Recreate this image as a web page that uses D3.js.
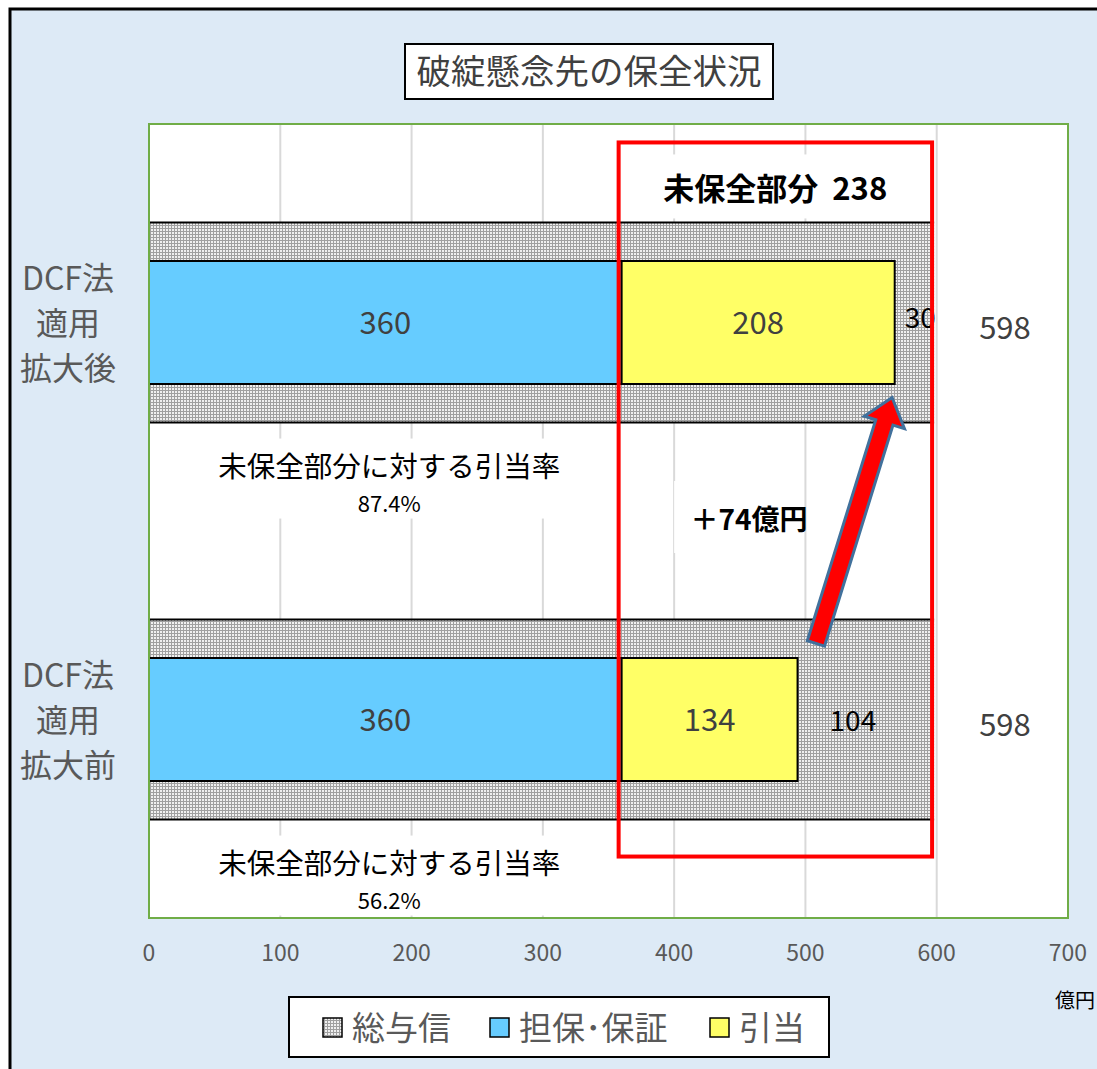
<!DOCTYPE html>
<html>
<head>
<meta charset="utf-8">
<script src="https://cdn.jsdelivr.net/npm/d3@7"></script>
<style>
body{margin:0;background:#fff;}
text{font-family:"Noto Sans CJK JP","Noto Sans",sans-serif;}
</style>
</head>
<body>
<div id="chart"></div>
<script>
// data
var categories=["拡大後","拡大前"];
var catLabels=[["DCF法","適用","拡大後"],["DCF法","適用","拡大前"]];
var totals=[598,598];
var collateral=[360,360];
var provision=[208,134];
var uncovered=[30,104];
var rates=["87.4%","56.2%"];
var xTicks=[0,100,200,300,400,500,600,700];
var legendNames=["総与信","担保･保証","引当"];

var W=1097,H=1069;
var svg=d3.select("#chart").append("svg")
	.attr("width",W).attr("height",H);

var defs=svg.append("defs");
var pat=defs.append("pattern")
	.attr("id","hatch").attr("width",3).attr("height",3)
	.attr("patternUnits","userSpaceOnUse");
pat.append("rect").attr("width",3).attr("height",3).attr("fill","#f0f0f0");
pat.append("rect").attr("width",3).attr("height",1).attr("fill","#a0a0a0");
pat.append("rect").attr("width",1).attr("height",3).attr("fill","#a0a0a0");

// background + frame
svg.append("rect").attr("x",10).attr("y",9).attr("width",W).attr("height",H)
	.attr("fill","#ddeaf6").attr("stroke","#000").attr("stroke-width",3);

var x=d3.scaleLinear().domain([0,700]).range([149,1068]);
var y=d3.scaleBand().domain(categories).range([124,918])
	.paddingInner(0.496).paddingOuter(0.248);
var inner=123;

// plot area
svg.append("rect").attr("x",x(0)).attr("y",124).attr("width",x(700)-x(0)).attr("height",794)
	.attr("fill","#fff");

// grid
svg.selectAll(".grid").data(xTicks.slice(1,-1)).enter().append("line")
	.attr("class","grid")
	.attr("x1",function(d){return x(d);}).attr("x2",function(d){return x(d);})
	.attr("y1",124).attr("y2",918)
	.attr("stroke","#d9d9d9").attr("stroke-width",2);

// total bars
svg.selectAll(".tot").data(categories).enter().append("rect")
	.attr("x",x(0)).attr("y",function(d){return y(d);})
	.attr("width",function(d,i){return x(totals[i])-x(0);})
	.attr("height",y.bandwidth())
	.attr("fill","url(#hatch)");
categories.forEach(function(c,i){
	[y(c),y(c)+y.bandwidth()].forEach(function(yy){
		svg.append("line").attr("x1",x(0)).attr("x2",x(totals[i]))
			.attr("y1",yy).attr("y2",yy).attr("stroke","#000").attr("stroke-width",2);
	});
});

function mid(c){return y(c)+y.bandwidth()/2;}

// collateral bars
svg.selectAll(".col").data(categories).enter().append("rect")
	.attr("x",x(0)).attr("y",function(d){return mid(d)-inner/2;})
	.attr("width",function(d,i){return x(collateral[i])-x(0);})
	.attr("height",inner)
	.attr("fill","#66ccff").attr("stroke","#000").attr("stroke-width",2);

// provision bars
svg.selectAll(".pro").data(categories).enter().append("rect")
	.attr("x",function(d,i){return x(collateral[i]);})
	.attr("y",function(d){return mid(d)-inner/2;})
	.attr("width",function(d,i){return x(collateral[i]+provision[i])-x(collateral[i]);})
	.attr("height",inner)
	.attr("fill","#ffff66").attr("stroke","#000").attr("stroke-width",2);

// value labels
categories.forEach(function(c,i){
	svg.append("text").attr("x",x(collateral[i]/2)).attr("y",mid(c)+11)
		.attr("text-anchor","middle").attr("font-size",31).attr("fill","#404040")
		.text(collateral[i]);
	svg.append("text").attr("x",x(collateral[i]+provision[i]/2)).attr("y",mid(c)+11)
		.attr("text-anchor","middle").attr("font-size",31).attr("fill","#404040")
		.text(provision[i]);
	svg.append("text").attr("x",x(totals[i]+54)).attr("y",mid(c)+16)
		.attr("text-anchor","middle").attr("font-size",31).attr("fill","#404040")
		.text(totals[i]);
});
svg.append("text").attr("x",x(collateral[0]+provision[0])+10).attr("y",mid(categories[0])+5)
	.attr("font-size",28).attr("fill","#000").text(uncovered[0]);
svg.append("text").attr("x",x(collateral[1]+provision[1])+32).attr("y",mid(categories[1])+11)
	.attr("font-size",28).attr("fill","#000").text(uncovered[1]);

// rate notes
categories.forEach(function(c,i){
	var top=y(c)+y.bandwidth();
	var g=svg.append("g");
	g.append("rect").attr("x",x(45)).attr("y",top+16).attr("width",x(335)-x(45)).attr("height",80).attr("fill","#fff");
	g.append("text").attr("x",x(183)).attr("y",top+54)
		.attr("text-anchor","middle").attr("font-size",28.5).attr("fill","#000")
		.text("未保全部分に対する引当率");
	g.append("text").attr("x",x(183)).attr("y",top+89)
		.attr("text-anchor","middle").attr("font-size",22).attr("fill","#000")
		.text(rates[i]);
});

// unsecured total note
var top0=y(categories[0]);
svg.append("rect").attr("x",x(375)).attr("y",top0-68).attr("width",x(585)-x(375)).attr("height",64).attr("fill","#fff");
svg.append("text").attr("x",x(477)).attr("y",top0-22)
	.attr("text-anchor","middle").attr("font-size",31).attr("font-weight","bold").attr("fill","#000")
	.attr("xml:space","preserve")
	.text("未保全部分  "+(totals[0]-collateral[0]));
var gapMid=(y(categories[0])+y.bandwidth()+y(categories[1]))/2;
svg.append("rect").attr("x",x(400)).attr("y",gapMid-40).attr("width",x(495)-x(400)).attr("height",72).attr("fill","#fff");
svg.append("text").attr("x",x(457)).attr("y",gapMid+9)
	.attr("text-anchor","middle").attr("font-size",28).attr("font-weight","bold").attr("fill","#000")
	.text("＋"+(provision[0]-provision[1])+"億円");

// red box
svg.append("rect").attr("x",x(collateral[0])-3).attr("y",y(categories[0])-80)
	.attr("width",x(598)-x(collateral[0])+1)
	.attr("height",y(categories[1])+y.bandwidth()+37-(y(categories[0])-80))
	.attr("fill","none").attr("stroke","#ff0000").attr("stroke-width",4);

// arrow
var tail=[x(508),y(categories[1])+24], tip=[x(566),y(categories[0])+y.bandwidth()-25];
var dx=tip[0]-tail[0], dy=tip[1]-tail[1], L=Math.sqrt(dx*dx+dy*dy);
var ux=dx/L, uy=dy/L, px=-uy, py=ux;
var sw=9, hw=21, hl=26;
function pt(a,b){return [tail[0]+ux*a+px*b, tail[1]+uy*a+py*b];}
var arrowPts=[pt(0,-sw),pt(L-hl,-sw),pt(L-hl,-hw),pt(L,0),pt(L-hl,hw),pt(L-hl,sw),pt(0,sw)];
svg.append("path").attr("d",d3.line()(arrowPts)+"Z")
	.attr("fill","#ff0000").attr("stroke","#41719c").attr("stroke-width",3).attr("stroke-linejoin","miter");

// plot border
svg.append("rect").attr("x",x(0)).attr("y",124).attr("width",x(700)-x(0)).attr("height",794)
	.attr("fill","none").attr("stroke","#70ad47").attr("stroke-width",2);

// x axis labels
svg.selectAll(".tick").data(xTicks).enter().append("text")
	.attr("x",function(d){return x(d);}).attr("y",961)
	.attr("text-anchor","middle").attr("font-size",23).attr("fill","#595959")
	.text(function(d){return d;});
svg.append("text").attr("x",1075).attr("y",1008).attr("text-anchor","middle")
	.attr("font-size",20).attr("fill","#000").text("億円");

// category labels
categories.forEach(function(c,i){
	catLabels[i].forEach(function(t,j){
		svg.append("text").attr("x",68).attr("y",mid(c)-33+j*45)
			.attr("text-anchor","middle").attr("font-size",32).attr("fill","#595959")
			.text(t);
	});
});

// title
svg.append("rect").attr("x",405).attr("y",44).attr("width",368).attr("height",55)
	.attr("fill","#fff").attr("stroke","#000").attr("stroke-width",2);
svg.append("text").attr("x",589).attr("y",84).attr("text-anchor","middle")
	.attr("font-size",34.5).attr("fill","#404040").text("破綻懸念先の保全状況");

// legend
svg.append("rect").attr("x",289).attr("y",997).attr("width",540).attr("height",60)
	.attr("fill","#fff").attr("stroke","#000").attr("stroke-width",2);
var legFill=["url(#hatch)","#66ccff","#ffff66"];
var legX=[323,490,710];
legendNames.forEach(function(n,i){
	svg.append("rect").attr("x",legX[i]).attr("y",1018).attr("width",19).attr("height",19)
		.attr("fill",legFill[i]).attr("stroke","#000").attr("stroke-width",1.5);
	svg.append("text").attr("x",legX[i]+29).attr("y",1040)
		.attr("font-size",33).attr("fill","#595959").text(n);
});
</script>
</body>
</html>
